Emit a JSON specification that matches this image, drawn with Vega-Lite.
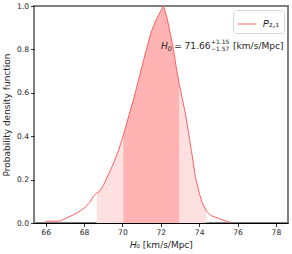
{
  "$schema": "https://vega.github.io/schema/vega-lite/v6.json",
  "width": 254,
  "height": 217,
  "autosize": {"type": "none"},
  "padding": {"left": 34, "top": 6, "right": 4, "bottom": 31},
  "config": {
    "font": "DejaVu Sans",
    "view": {"stroke": "#808080", "strokeWidth": 2},
    "axis": {
      "grid": false,
      "tickColor": "#000000",
      "tickSize": 3.5,
      "tickWidth": 0.8,
      "labelFont": "DejaVu Sans",
      "labelFontSize": 7.6,
      "labelColor": "#262626",
      "labelPadding": 2,
      "titleFont": "DejaVu Sans",
      "titleFontSize": 9,
      "titleFontWeight": "normal",
      "titleColor": "#262626"
    }
  },
  "data": {
    "values": [
      {"x": 66.0, "y": 0.008},
      {"x": 66.75, "y": 0.009},
      {"x": 67.0, "y": 0.02},
      {"x": 67.5, "y": 0.04},
      {"x": 67.8, "y": 0.055},
      {"x": 68.1, "y": 0.075},
      {"x": 68.3, "y": 0.095},
      {"x": 68.5, "y": 0.125},
      {"x": 68.66, "y": 0.138},
      {"x": 68.8, "y": 0.146},
      {"x": 69.0, "y": 0.172},
      {"x": 69.2, "y": 0.21},
      {"x": 69.5, "y": 0.268},
      {"x": 69.8, "y": 0.335},
      {"x": 70.05, "y": 0.405},
      {"x": 70.3, "y": 0.484},
      {"x": 70.57, "y": 0.567},
      {"x": 70.8, "y": 0.645},
      {"x": 71.1, "y": 0.75},
      {"x": 71.3, "y": 0.815},
      {"x": 71.48, "y": 0.875},
      {"x": 71.7, "y": 0.925},
      {"x": 71.9, "y": 0.96},
      {"x": 72.14, "y": 1.0},
      {"x": 72.35, "y": 0.935},
      {"x": 72.5, "y": 0.87},
      {"x": 72.66, "y": 0.8},
      {"x": 72.8, "y": 0.72},
      {"x": 72.96, "y": 0.64},
      {"x": 73.1, "y": 0.58},
      {"x": 73.27, "y": 0.51},
      {"x": 73.45, "y": 0.413},
      {"x": 73.6, "y": 0.33},
      {"x": 73.8, "y": 0.213},
      {"x": 74.0, "y": 0.14},
      {"x": 74.15, "y": 0.095},
      {"x": 74.38, "y": 0.055},
      {"x": 74.6, "y": 0.035},
      {"x": 75.1, "y": 0.018},
      {"x": 75.6, "y": 0.003}
    ]
  },
  "layer": [
    {
      "transform": [{"filter": {"field": "x", "range": [68.66, 74.38]}}],
      "mark": {"type": "area", "color": "#ffe0e0"},
      "encoding": {
        "x": {"field": "x", "type": "quantitative", "scale": {"domain": [65.39, 78.63], "nice": false, "zero": false},
          "axis": {"values": [66, 68, 70, 72, 74, 76, 78], "format": "d", "title": "𝐻₀ [km/s/Mpc]", "domainColor": "#000000", "domainWidth": 1.2, "titlePadding": 4}},
        "y": {"field": "y", "type": "quantitative", "scale": {"domain": [0, 1], "nice": false},
          "axis": {"values": [0, 0.2, 0.4, 0.6, 0.8, 1.0], "format": ".1f", "title": "Probability density function", "domain": false, "labelPadding": 2, "titlePadding": 5}}
      }
    },
    {
      "transform": [{"filter": {"field": "x", "range": [70.05, 72.96]}}],
      "mark": {"type": "area", "color": "#ffb3b3"},
      "encoding": {
        "x": {"field": "x", "type": "quantitative"},
        "y": {"field": "y", "type": "quantitative"}
      }
    },
    {
      "mark": {"type": "line", "strokeWidth": 1},
      "encoding": {
        "x": {"field": "x", "type": "quantitative"},
        "y": {"field": "y", "type": "quantitative"},
        "color": {"datum": "𝑃₂,₁", "type": "nominal", "scale": {"range": ["#ff6060"]},
          "legend": {"title": null, "orient": "top-right", "offset": 4, "padding": 4, "strokeColor": "#d6d6d6", "cornerRadius": 3, "fillColor": "#ffffff", "symbolType": "stroke", "symbolSize": 340, "symbolStrokeWidth": 1, "labelFontSize": 9, "labelFont": "DejaVu Sans", "labelColor": "#262626", "labelOffset": 6}}
      }
    },
    {
      "data": {"values": [{"label": "H"}]},
      "mark": {"type": "text", "align": "left", "baseline": "alphabetic", "fontSize": 9.1, "fontStyle": "italic", "color": "#262626"},
      "encoding": {"x": {"datum": 72.008, "type": "quantitative"}, "y": {"datum": 0.8, "type": "quantitative"}, "text": {"field": "label"}}
    },
    {
      "data": {"values": [{"label": "0"}]},
      "mark": {"type": "text", "align": "left", "baseline": "alphabetic", "fontSize": 6.4, "fontStyle": "italic", "color": "#262626"},
      "encoding": {"x": {"datum": 72.362, "type": "quantitative"}, "y": {"datum": 0.7926, "type": "quantitative"}, "text": {"field": "label"}}
    },
    {
      "data": {"values": [{"label": "="}]},
      "mark": {"type": "text", "align": "left", "baseline": "alphabetic", "fontSize": 9.1, "color": "#262626"},
      "encoding": {"x": {"datum": 72.706, "type": "quantitative"}, "y": {"datum": 0.8, "type": "quantitative"}, "text": {"field": "label"}}
    },
    {
      "data": {"values": [{"label": "71.66"}]},
      "mark": {"type": "text", "align": "left", "baseline": "alphabetic", "fontSize": 9.1, "color": "#262626"},
      "encoding": {"x": {"datum": 73.238, "type": "quantitative"}, "y": {"datum": 0.8, "type": "quantitative"}, "text": {"field": "label"}}
    },
    {
      "data": {"values": [{"label": "+1.15"}]},
      "mark": {"type": "text", "align": "left", "baseline": "alphabetic", "fontSize": 6, "color": "#262626"},
      "encoding": {"x": {"datum": 74.61, "type": "quantitative"}, "y": {"datum": 0.8235, "type": "quantitative"}, "text": {"field": "label"}}
    },
    {
      "data": {"values": [{"label": "−1.57"}]},
      "mark": {"type": "text", "align": "left", "baseline": "alphabetic", "fontSize": 6, "color": "#262626"},
      "encoding": {"x": {"datum": 74.61, "type": "quantitative"}, "y": {"datum": 0.7915, "type": "quantitative"}, "text": {"field": "label"}}
    },
    {
      "data": {"values": [{"label": "[km/s/Mpc]"}]},
      "mark": {"type": "text", "align": "right", "baseline": "alphabetic", "fontSize": 9.1, "color": "#262626"},
      "encoding": {"x": {"datum": 78.402, "type": "quantitative"}, "y": {"datum": 0.8, "type": "quantitative"}, "text": {"field": "label"}}
    }
  ]
}
